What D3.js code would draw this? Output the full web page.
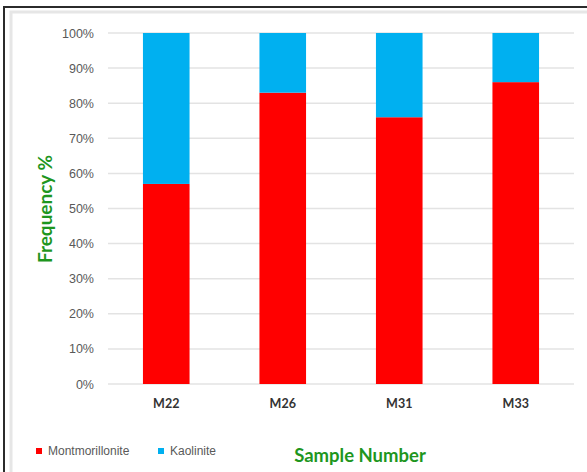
<!DOCTYPE html>
<html>
<head>
<meta charset="utf-8">
<script src="https://cdn.jsdelivr.net/npm/d3@7"></script>
<style>
  html, body { margin: 0; padding: 0; background: #fff; }
  svg { display: block; }
</style>
</head>
<body>
<svg id="chart" width="587" height="472"></svg>
<script>
// Clay mineral composition per sample (percent)
const samples = ["M22", "M26", "M31", "M33"];
const montmorillonite = [57, 83, 76, 86];
const kaolinite = [43, 17, 24, 14];
const yTicks = [0, 10, 20, 30, 40, 50, 60, 70, 80, 90, 100];
const seriesNames = ["Montmorillonite", "Kaolinite"];
const seriesColors = ["#ff0000", "#00b0f0"];

const svg = d3.select("#chart");

// outer frame
svg.append("line").attr("x1", 4).attr("x2", 587).attr("y1", 7).attr("y2", 7)
  .attr("stroke", "#2b2b2b").attr("stroke-width", 2);
svg.append("line").attr("x1", 4).attr("x2", 4).attr("y1", 6).attr("y2", 472)
  .attr("stroke", "#2b2b2b").attr("stroke-width", 2);
// inner chart-area border
svg.append("rect").attr("x", 11).attr("y", 12).attr("width", 590).attr("height", 480)
  .attr("fill", "none").attr("stroke", "#e6e6e6").attr("stroke-width", 3);

const x = d3.scaleBand().domain(samples).range([108, 574]).paddingInner(0.6).paddingOuter(0.3);
const y = d3.scaleLinear().domain([0, 100]).range([384, 33]);

// gridlines
svg.append("g").selectAll("line").data(yTicks).join("line")
  .attr("x1", 108).attr("x2", 574)
  .attr("y1", d => y(d)).attr("y2", d => y(d))
  .attr("stroke", "#e3e3e3").attr("stroke-width", 1.5);

// y axis labels
const yAxis = d3.axisLeft(y).tickValues(yTicks).tickFormat(d => d + "%").tickSize(0).tickPadding(0);
const gy = svg.append("g").attr("transform", "translate(94,0)").call(yAxis);
gy.select(".domain").remove();
gy.selectAll("text")
  .attr("font-family", "'Liberation Sans Narrow', 'Liberation Sans', sans-serif")
  .attr("font-size", 12.5).attr("fill", "#595959");

// x axis labels
const xAxis = d3.axisBottom(x).tickSize(0).tickPadding(0);
const gx = svg.append("g").attr("transform", "translate(0,399)").call(xAxis);
gx.select(".domain").remove();
gx.selectAll("text")
  .attr("font-family", "Lato, 'Liberation Sans', sans-serif")
  .attr("font-weight", "bold").attr("font-size", 12.5).attr("fill", "#333");

// stacked bars
const rows = samples.map((s, i) => ({ sample: s, Montmorillonite: montmorillonite[i], Kaolinite: kaolinite[i] }));
const stacked = d3.stack().keys(seriesNames)(rows);
svg.append("g").selectAll("g").data(stacked).join("g")
  .attr("fill", (d, i) => seriesColors[i])
  .selectAll("rect").data(d => d).join("rect")
  .attr("x", d => x(d.data.sample))
  .attr("width", x.bandwidth())
  .attr("y", d => y(d[1]))
  .attr("height", d => y(d[0]) - y(d[1]));

// axis titles
svg.append("text")
  .attr("transform", "translate(52,209) rotate(-90)")
  .attr("text-anchor", "middle")
  .attr("font-family", "Lato, 'Liberation Sans', sans-serif")
  .attr("font-weight", "bold").attr("font-size", 19).attr("fill", "#1e961e")
  .text("Frequency %");
svg.append("text")
  .attr("x", 360).attr("y", 462)
  .attr("text-anchor", "middle")
  .attr("font-family", "Lato, 'Liberation Sans', sans-serif")
  .attr("font-weight", "bold").attr("font-size", 18.5).attr("fill", "#1e961e")
  .text("Sample Number");

// legend
const legendX = [36, 158];
const legend = svg.append("g").selectAll("g").data(seriesNames).join("g")
  .attr("transform", (d, i) => `translate(${legendX[i]},448)`);
legend.append("rect").attr("width", 6).attr("height", 6)
  .attr("fill", (d, i) => seriesColors[i]);
legend.append("text").attr("x", 12).attr("y", 7)
  .attr("font-family", "'Liberation Sans Narrow', 'Liberation Sans', sans-serif")
  .attr("font-size", 12).attr("fill", "#595959")
  .text(d => d);
</script>
</body>
</html>
